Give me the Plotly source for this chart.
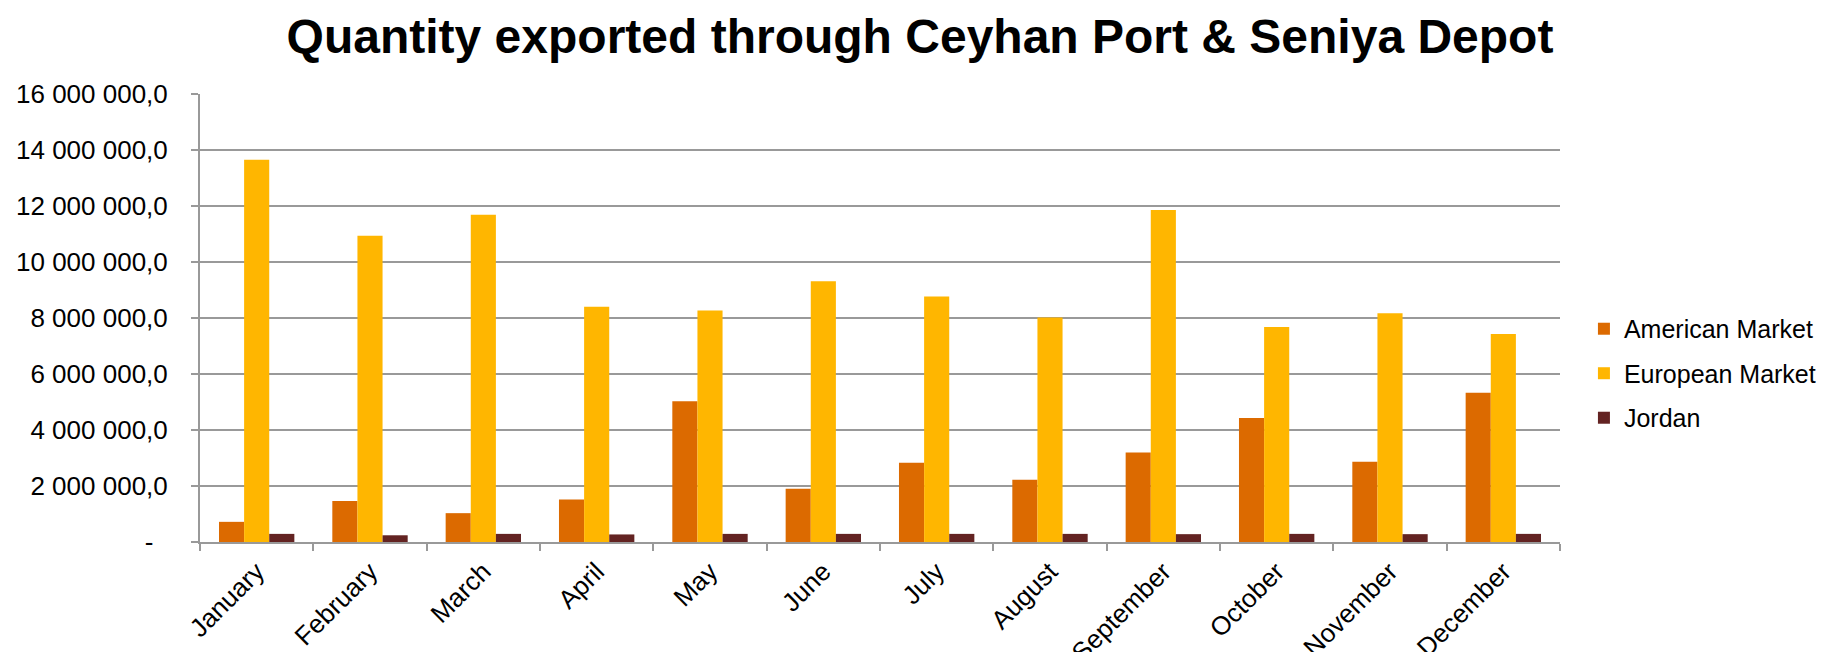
import plotly.graph_objects as go

months = ['January', 'February', 'March', 'April', 'May', 'June',
          'July', 'August', 'September', 'October', 'November', 'December']

american = [720000, 1460000, 1030000, 1520000, 5030000, 1900000,
            2830000, 2220000, 3200000, 4430000, 2870000, 5330000]
european = [13650000, 10940000, 11690000, 8400000, 8270000, 9310000,
            8770000, 8020000, 11860000, 7680000, 8170000, 7430000]
jordan = [290000, 240000, 290000, 270000, 290000, 290000,
          290000, 290000, 280000, 290000, 280000, 290000]

y_ticks = [0, 2000000, 4000000, 6000000, 8000000, 10000000, 12000000, 14000000, 16000000]
y_tick_text = ['-\u00a0\u00a0', '2 000 000,0', '4 000 000,0', '6 000 000,0', '8 000 000,0',
               '10 000 000,0', '12 000 000,0', '14 000 000,0', '16 000 000,0']

series = [('American Market', american, '#DC6A00'),
          ('European Market', european, '#FFB600'),
          ('Jordan', jordan, '#632322')]

fig = go.Figure()
for name, vals, color in series:
    fig.add_trace(go.Bar(x=months, y=vals, name=name, legendgroup=name,
                         marker=dict(color=color, line=dict(width=0))))

# page has an 8px body margin, so the figure is a bit smaller than the window
fig.update_layout(
    width=1811, height=644,
    barmode='group', bargap=0.335, bargroupgap=0,
    plot_bgcolor='white', paper_bgcolor='white',
    font=dict(family='Liberation Sans, Arial', size=26, color='black'),
    title=dict(text='<b>Quantity exported through Ceyhan Port & Seniya Depot</b>',
               x=0.5036, xanchor='center', y=0.9565, yanchor='middle',
               font=dict(size=48, color='black')),
    margin=dict(l=192, r=259, t=86, b=110),
    # container refs so the legend doesn't push the plot margins
    legend=dict(xref='container', yref='container', x=0.8702, xanchor='left',
                y=0.5373, yanchor='top',
                font=dict(size=25), tracegroupgap=9, traceorder='grouped',
                bgcolor='rgba(0,0,0,0)'),
    showlegend=True,
)

fig.update_xaxes(
    type='category', tickangle=-45, automargin=False,
    showline=True, linecolor='#999999', linewidth=2,
    ticks='outside', tickson='boundaries', ticklen=7, tickcolor='#999999', tickwidth=2,
    showgrid=False, tickfont=dict(size=26), ticklabelstandoff=2,
)
fig.update_yaxes(
    range=[0, 16000000], tickvals=y_ticks, ticktext=y_tick_text, automargin=False,
    showline=True, linecolor='#999999', linewidth=2,
    ticks='outside', ticklen=7, tickcolor='#999999', tickwidth=2,
    showgrid=True, gridcolor='#999999', gridwidth=2,
    zeroline=False, tickfont=dict(size=26), ticklabelstandoff=18,
)

fig.write_html('out.html')
